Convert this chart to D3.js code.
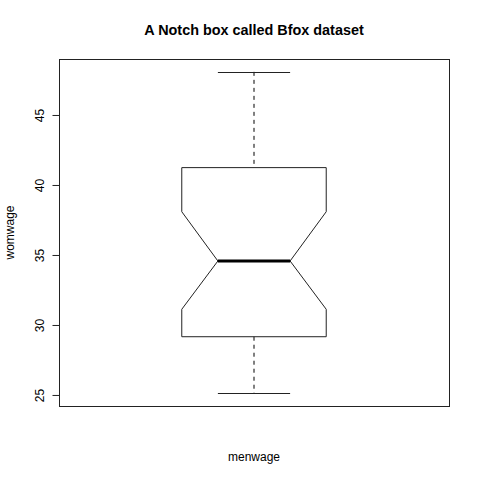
<!DOCTYPE html>
<html>
<head>
<meta charset="utf-8">
<script src="https://cdn.jsdelivr.net/npm/d3@7"></script>
<style>
  html, body { margin: 0; padding: 0; background: #fff; }
  svg { display: block; }
  text { font-family: "Liberation Sans", Arial, Helvetica, sans-serif; fill: #000; }
</style>
</head>
<body>
<svg id="chart" width="480" height="480"></svg>
<script>
// ---- data ----
const categories = ["menwage"];
const whiskerLow = [25.13];
const quartile1 = [29.16];
const medians = [34.57];
const quartile3 = [41.24];
const whiskerHigh = [48.08];
const notchLow = [31.12];
const notchHigh = [38.09];
const yTicks = [25, 30, 35, 40, 45];
const titleText = "A Notch box called Bfox dataset";
const yLabel = "womwage";

// ---- layout ----
const plot = { left: 59, right: 449, top: 59, bottom: 406 };

const svg = d3.select("#chart");

const lo = d3.min(whiskerLow), hi = d3.max(whiskerHigh);
const pad = (hi - lo) * 0.04;
const y = d3.scaleLinear().domain([lo - pad, hi + pad]).range([plot.bottom, plot.top]);

// x: R style 0.5..1.5 extended 4%
const x = d3.scaleLinear().domain([0.5 - 0.04, 1.5 + 0.04]).range([plot.left, plot.right]);

// plot frame
svg.append("rect")
  .attr("x", plot.left + 0.5).attr("y", plot.top + 0.5)
  .attr("width", plot.right - plot.left).attr("height", plot.bottom - plot.top)
  .attr("fill", "none").attr("stroke", "#222").attr("stroke-width", 1);

// y axis
const yAxis = d3.axisLeft(y).tickValues(yTicks).tickSize(7).tickPadding(0).tickFormat(d3.format("d"));
const gy = svg.append("g").attr("transform", `translate(${plot.left + 0.5},0)`).call(yAxis);
gy.select(".domain").attr("stroke", "#222")
  .attr("d", `M0,${y(yTicks[0])}V${y(yTicks[yTicks.length-1])}`);
gy.selectAll(".tick line").attr("stroke", "#222");
gy.selectAll(".tick text")
  .attr("font-size", 12)
  .attr("x", null).attr("dy", null)
  .attr("text-anchor", "middle")
  .attr("transform", "translate(-16,0) rotate(-90)")
  .style("fill", "#000");

// boxes
categories.forEach((c, i) => {
  const cx = x(i + 1);
  const bw = x(1.2) - x(1.0);      // half box width
  const nw = bw / 2;               // notch half width
  const capW = bw / 2;             // whisker cap half width
  const g = svg.append("g");

  // whiskers (dashed)
  g.append("line").attr("x1", cx).attr("x2", cx)
    .attr("y1", y(whiskerHigh[i])).attr("y2", y(quartile3[i]))
    .attr("stroke", "#000").attr("stroke-dasharray", "4,4");
  g.append("line").attr("x1", cx).attr("x2", cx)
    .attr("y1", y(quartile1[i])).attr("y2", y(whiskerLow[i]))
    .attr("stroke", "#000").attr("stroke-dasharray", "4,4");
  // caps
  [whiskerHigh[i], whiskerLow[i]].forEach(v => {
    g.append("line").attr("x1", cx - capW).attr("x2", cx + capW)
      .attr("y1", Math.round(y(v)) + 0.5).attr("y2", Math.round(y(v)) + 0.5)
      .attr("stroke", "#222");
  });

  // notched box
  const pts = [
    [cx - bw, y(quartile1[i])],
    [cx - bw, y(notchLow[i])],
    [cx - nw, y(medians[i])],
    [cx - bw, y(notchHigh[i])],
    [cx - bw, y(quartile3[i])],
    [cx + bw, y(quartile3[i])],
    [cx + bw, y(notchHigh[i])],
    [cx + nw, y(medians[i])],
    [cx + bw, y(notchLow[i])],
    [cx + bw, y(quartile1[i])]
  ];
  g.append("path").attr("d", d3.line()(pts) + "Z")
    .attr("fill", "none").attr("stroke", "#222").attr("stroke-width", 1);

  // median
  g.append("line").attr("x1", cx - nw).attr("x2", cx + nw)
    .attr("y1", y(medians[i])).attr("y2", y(medians[i]))
    .attr("stroke", "#000").attr("stroke-width", 3);

  // x label
  svg.append("text").attr("x", cx).attr("y", 461)
    .attr("text-anchor", "middle").attr("font-size", 12).text(c);
});

// title
svg.append("text").attr("x", (plot.left + plot.right) / 2).attr("y", 34.5)
  .attr("text-anchor", "middle").attr("font-size", 14.4).attr("font-weight", "bold")
  .text(titleText);

// y label
svg.append("text")
  .attr("transform", `translate(13.5,${(plot.top + plot.bottom) / 2}) rotate(-90)`)
  .attr("text-anchor", "middle").attr("font-size", 12).text(yLabel);
</script>
</body>
</html>
